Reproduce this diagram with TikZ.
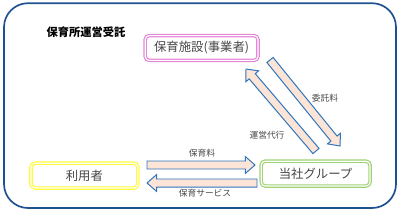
\documentclass[tikz,border=0pt]{standalone}
\usepackage{fontspec}
\setmainfont{Noto Sans CJK JP}
\usetikzlibrary{calc}
\definecolor{frameblue}{RGB}{31, 80, 145}
\definecolor{arrowblue}{RGB}{46, 117, 190}
\definecolor{arrowfill}{RGB}{252, 228, 214}
\definecolor{boxpink}{RGB}{228, 135, 215}
\definecolor{boxyellow}{RGB}{255, 250, 60}
\definecolor{boxgreen}{RGB}{160, 210, 115}
\definecolor{labelgray}{RGB}{70, 70, 70}

% block arrow from #1 to #2
\newcommand{\blockarrow}[2]{%
  \coordinate (hb) at ($(#2)!0.24cm!(#1)$);
  \draw[blockarr]
    ($(#1)!0.1cm!90:(#2)$) -- ($(hb)!0.1cm!-90:(#1)$) --
    ($(hb)!0.21cm!-90:(#1)$) -- (#2) -- ($(hb)!0.21cm!90:(#1)$) --
    ($(hb)!0.1cm!90:(#1)$) -- ($(#1)!0.1cm!-90:(#2)$) -- cycle;
}

\begin{document}
\begin{tikzpicture}[font=\fontsize{8.8}{10}\selectfont,
    party/.style={rectangle, rounded corners=0.1cm, minimum height=0.62cm,
                  text=labelgray, double=white, double distance=0.8pt, line width=0.85pt},
    blockarr/.style={draw=arrowblue, fill=arrowfill, line width=0.7pt, line join=miter},
    flow/.style={font=\fontsize{6.2}{7}\selectfont, text=labelgray}]
  \useasboundingbox (0, 0) rectangle (10, 5.3);
  \draw[frameblue, line width=1.2pt, rounded corners=0.6cm] (0.1, 0.1) rectangle (9.9, 5.22);

  \node[font=\fontsize{8}{10}\selectfont\bfseries] (title) at (2.15, 4.5) {保育所運営受託};

  \node[party, draw=boxpink, minimum width=2.82cm]   (facility) at (5.04, 4.1)  {保育施設(事業者)};
  \node[party, draw=boxyellow, minimum width=2.67cm]  (user)     at (2.11, 0.91) {利用者};
  \node[party, draw=boxgreen, minimum width=2.72cm]  (group)    at (7.89, 0.96) {当社グループ};

  % arrow ends
  \coordinate (feeA) at (3.675, 1.175);
  \coordinate (feeB) at (6.375, 1.175);
  \coordinate (svcA) at (6.425, 0.725);
  \coordinate (svcB) at (3.675, 0.725);
  \coordinate (opA)  at (7.9, 1.525);
  \coordinate (opB)  at (6.15, 3.575);
  \coordinate (comA) at (6.75, 3.8);
  \coordinate (comB) at (8.5, 1.65);

  % user <-> group
  \blockarrow{feeA}{feeB}
  \blockarrow{svcA}{svcB}
  % group <-> facility
  \blockarrow{opA}{opB}
  \blockarrow{comA}{comB}

  \node[flow] (feelabel) at (5.05, 1.475) {保育料};
  \node[flow] (svclabel) at (5.125, 0.475) {保育サービス};
  \node[flow] (oplabel)  at (6.675, 1.925) {運営代行};
  \node[flow] (comlabel) at (8.125, 2.85) {委託料};
\end{tikzpicture}
\end{document}
